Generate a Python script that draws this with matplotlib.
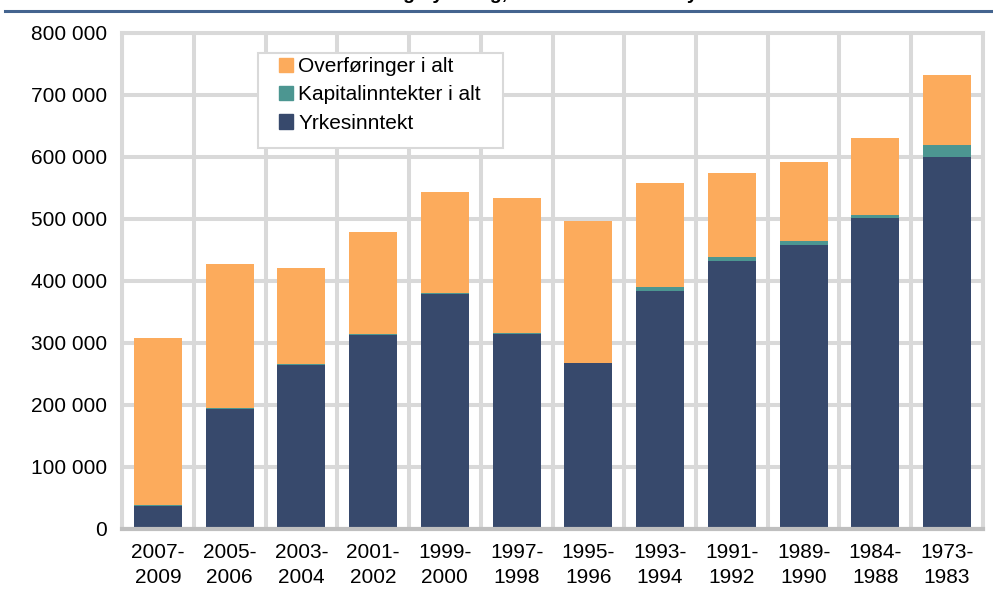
import matplotlib
matplotlib.use('Agg')
import matplotlib.pyplot as plt
import matplotlib.patches as mpatches
from matplotlib.ticker import FuncFormatter
import numpy as np

plt.rcParams['font.family'] = ['Liberation Sans', 'DejaVu Sans']

# data (kroner)
periods = ['2007-\n2009', '2005-\n2006', '2003-\n2004', '2001-\n2002', '1999-\n2000', '1997-\n1998',
           '1995-\n1996', '1993-\n1994', '1991-\n1992', '1989-\n1990', '1984-\n1988', '1973-\n1983']
yrkesinntekt = [37000, 193000, 265000, 313000, 379000, 314000, 267000, 384000, 433000, 458000, 501000, 600000]
kapitalinntekter = [1000, 1500, 1000, 1500, 2000, 1500, 1000, 6000, 5000, 6000, 5000, 19000]
overforinger = [269500, 232500, 155500, 165000, 162500, 218000, 228000, 168000, 136500, 128500, 124500, 113500]

title = 'Inntekt for enslig flyktning, etter tid siden innflyttet'

c_yrke = '#37496c'
c_kap = '#4c9691'
c_over = '#fcab5c'
c_grid = '#d9d9d9'

fig = plt.figure(figsize=(9.93, 5.95), dpi=100)
ax = fig.add_axes([122/993, 1 - 529/595, 861/993, 496/595])

x = np.arange(len(periods))
yrke = np.array(yrkesinntekt)
kap = np.array(kapitalinntekter)
over = np.array(overforinger)

w = 0.67
ax.bar(x, yrke, w, color=c_yrke, zorder=3)
ax.bar(x, kap, w, bottom=yrke, color=c_kap, zorder=3)
ax.bar(x, over, w, bottom=yrke + kap, color=c_over, zorder=3)

ax.set_xlim(-0.5, len(periods) - 0.5)
ax.set_ylim(0, 800000)

# ticks
ax.set_yticks(np.arange(0, 800001, 100000))
ax.yaxis.set_major_formatter(FuncFormatter(lambda v, p: f'{int(v):,}'.replace(',', ' ')))
ax.set_xticks(x)
ax.set_xticklabels(periods, linespacing=1.4)
ax.set_xticks(np.arange(-0.5, len(periods), 1), minor=True)
ax.tick_params(axis='both', which='both', length=0, labelsize=15)
ax.tick_params(axis='y', pad=11)
ax.tick_params(axis='x', pad=10)

# grid
ax.set_axisbelow(True)
ax.yaxis.grid(True, color=c_grid, lw=2.9)
ax.xaxis.grid(True, which='minor', color=c_grid, lw=2.9)
ax.xaxis.grid(False, which='major')
for s in ['left', 'top', 'right']:
    ax.spines[s].set_color(c_grid)
    ax.spines[s].set_linewidth(2.9)
ax.spines['bottom'].set_color('#bfbfbf')
ax.spines['bottom'].set_linewidth(3)
ax.spines['bottom'].set_zorder(4)

# legend box
box = mpatches.Rectangle((258/993, 1 - 148/595), 245/993, 95/595, transform=fig.transFigure,
                         facecolor='white', edgecolor=c_grid, lw=1.5, zorder=4)
fig.patches.append(box)
handles = [mpatches.Patch(color=c_over, label='Overføringer i alt'),
           mpatches.Patch(color=c_kap, label='Kapitalinntekter i alt'),
           mpatches.Patch(color=c_yrke, label='Yrkesinntekt')]
leg = fig.legend(handles=handles, loc='upper left', bbox_to_anchor=(279/993, 1 - 57/595),
                 frameon=False, fontsize=15, borderpad=0, borderaxespad=0,
                 handlelength=0.68, handleheight=0.68, handletextpad=0.25, labelspacing=0.45)
leg.set_zorder(5)

# header: title cut off at the top, as in the source, and blue rule
fig.text(258/993, 1 + 1/595, title, ha='left', va='baseline', fontsize=14, fontweight='bold')
fig.add_artist(plt.Line2D([5/993, 1], [1 - 10.5/595, 1 - 10.5/595], transform=fig.transFigure,
                          color='#44648f', lw=2.2))

fig.savefig('out.png', dpi=100)
